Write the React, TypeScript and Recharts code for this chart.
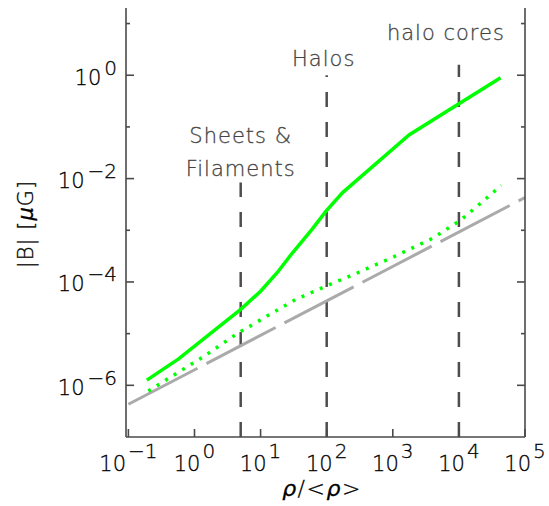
import React from "react";
import {
  LineChart,
  Line,
  XAxis,
  YAxis,
  ReferenceLine,
} from "recharts";

// green solid curve
const RHO_SOLID = [0.19, 0.575, 5.0, 10, 17.8, 30.2, 60.3, 97.7, 174, 1780, 42700];
const B_SOLID = [1.26e-6, 3.24e-6, 2.95e-5, 6.6e-5, 1.51e-4, 3.63e-4, 1.05e-3, 2.34e-3, 5.37e-3, 7.08e-2, 0.89];

// green dotted curve
const RHO_DOTTED = [0.2, 1.35, 4.68, 33.9, 97.7, 263, 1047, 4074, 10700, 25100, 43650];
const B_DOTTED = [7.76e-7, 3.55e-6, 1.05e-5, 4.57e-5, 8.32e-5, 1.41e-4, 3.09e-4, 7.08e-4, 1.58e-3, 3.98e-3, 7.41e-3];

// grey long-dashed reference (B ~ rho^(2/3))
const RHO_GREY = [0.1, 1e5];
const B_GREY = [4.3e-7, 4.3e-3];

const X_TICKS = [0.1, 1, 10, 100, 1000, 1e4, 1e5];
const Y_TICKS = [1e-6, 1e-5, 1e-4, 1e-3, 1e-2, 1e-1, 1, 10];
const X_DOMAIN = [0.092, 1e5];
const Y_DOMAIN = [1e-7, 20];

// density regimes: x position, top of the marker line, label lines
const REGIMES = [
  { rho: 5, top: 8.4e-3, lines: ["Sheets &", "Filaments"], dx: 0, dy: -7 },
  { rho: 100, top: 1.0, lines: ["Halos"], dx: -3, dy: -9 },
  { rho: 1e4, top: 1.6, lines: ["halo cores"], dx: -13, dy: -25 },
];

const FONT = "'DejaVu Sans ExtraLight', 'DejaVu Sans', sans-serif";
const AXIS = "#4a4a4a";

const toRows = (xs: number[], ys: number[]) => xs.map((rho, i) => ({ rho, b: ys[i] }));

const exponent = (v: number) => {
  const e = Math.round(Math.log10(v));
  return e < 0 ? "\u2212" + Math.abs(e) : String(e);
};

const BottomTick = (props: any) => {
  const { x, y, payload } = props;
  return (
    <g>
      <line x1={x} x2={x} y1={y} y2={y - 8} stroke={AXIS} strokeWidth={1.6} />
      <text x={x} y={y + 33.5} textAnchor="middle" fontFamily={FONT} fontWeight={200} fontSize={21} fill="#000" stroke="#000" strokeWidth={0.3}>
        10
        <tspan dx={2} dy={-12.5} fontSize={20}>
          {exponent(payload.value)}
        </tspan>
      </text>
    </g>
  );
};

const TopTick = (props: any) => {
  const { x, y } = props;
  return <line x1={x} x2={x} y1={y} y2={y + 8} stroke={AXIS} strokeWidth={1.6} />;
};

const isMajor = (v: number) => Math.round(Math.log10(v)) % 2 === 0;

const LeftTick = (props: any) => {
  const { x, y, payload } = props;
  const major = isMajor(payload.value);
  return (
    <g>
      <line x1={x} x2={x + (major ? 8 : 4)} y1={y} y2={y} stroke={AXIS} strokeWidth={1.6} />
      {major && (
        <text x={x - 9} y={y + 9.5} textAnchor="end" fontFamily={FONT} fontWeight={200} fontSize={21} fill="#000" stroke="#000" strokeWidth={0.3}>
          10
          <tspan dx={3} dy={-10} fontSize={20}>
            {exponent(payload.value)}
          </tspan>
        </text>
      )}
    </g>
  );
};

const RightTick = (props: any) => {
  const { x, y, payload } = props;
  const major = isMajor(payload.value);
  return <line x1={x} x2={x - (major ? 8 : 4)} y1={y} y2={y} stroke={AXIS} strokeWidth={1.6} />;
};

const regimeLabel = (lines: string[], dx: number, dy: number) => (props: any) => {
  const vb = props.viewBox;
  const cx = vb.x + dx;
  const base = vb.y + dy;
  return (
    <text textAnchor="middle" fontFamily={FONT} fontWeight={200} fontSize={21} letterSpacing={1} fill="#444" stroke="#444" strokeWidth={0.3}>
      {lines.map((t, i) => (
        <tspan key={t} x={cx} y={base - (lines.length - 1 - i) * 32.5}>
          {t}
        </tspan>
      ))}
    </text>
  );
};

export default function App() {
  return (
    <div style={{ position: "absolute", left: 0, top: 0, background: "#fff" }}>
      <LineChart width={549} height={506} margin={{ top: 8, right: 0, bottom: 0, left: 0 }}>
        <XAxis
          dataKey="rho"
          type="number"
          scale="log"
          domain={X_DOMAIN}
          allowDataOverflow
          ticks={X_TICKS}
          interval={0}
          height={69}
          tickSize={0}
          tickMargin={0}
          tickLine={false}
          tick={<BottomTick />}
          axisLine={{ stroke: AXIS, strokeWidth: 1.6 }}
        />
        <XAxis
          xAxisId="top"
          orientation="top"
          dataKey="rho"
          type="number"
          scale="log"
          domain={X_DOMAIN}
          allowDataOverflow
          ticks={X_TICKS}
          interval={0}
          height={0}
          tickSize={0}
          tickMargin={0}
          tickLine={false}
          tick={<TopTick />}
          axisLine={{ stroke: AXIS, strokeWidth: 1.6 }}
        />
        <YAxis
          type="number"
          scale="log"
          domain={Y_DOMAIN}
          allowDataOverflow
          ticks={Y_TICKS}
          interval={0}
          width={126}
          tickSize={0}
          tickMargin={0}
          tickLine={false}
          tick={<LeftTick />}
          axisLine={{ stroke: AXIS, strokeWidth: 1.6 }}
        />
        <YAxis
          yAxisId="right"
          orientation="right"
          type="number"
          scale="log"
          domain={Y_DOMAIN}
          allowDataOverflow
          ticks={Y_TICKS}
          interval={0}
          width={24}
          tickSize={0}
          tickMargin={0}
          tickLine={false}
          tick={<RightTick />}
          axisLine={{ stroke: AXIS, strokeWidth: 1.6 }}
        />

        {REGIMES.map((r) => (
          <ReferenceLine
            key={r.rho}
            segment={[
              { x: r.rho, y: Y_DOMAIN[0] },
              { x: r.rho, y: r.top },
            ]}
            stroke="#4d4d4d"
            strokeWidth={2.5}
            strokeDasharray="15 15"
            label={regimeLabel(r.lines, r.dx, r.dy)}
          />
        ))}

        <Line
          data={toRows(RHO_GREY, B_GREY)}
          dataKey="b"
          type="linear"
          stroke="#aaaaaa"
          strokeWidth={3}
          strokeDasharray="78 10"
          dot={false}
          activeDot={false}
          isAnimationActive={false}
        />
        <Line
          data={toRows(RHO_DOTTED, B_DOTTED)}
          dataKey="b"
          type="linear"
          stroke="#00ff00"
          strokeWidth={3.5}
          strokeDasharray="3 7"
          dot={false}
          activeDot={false}
          isAnimationActive={false}
        />
        <Line
          data={toRows(RHO_SOLID, B_SOLID)}
          dataKey="b"
          type="linear"
          stroke="#00ff00"
          strokeWidth={3.5}
          dot={false}
          activeDot={false}
          isAnimationActive={false}
        />

        <text
          x={322}
          y={496}
          textAnchor="middle"
          fontFamily={FONT}
          fontWeight={200}
          fontSize={22}
          letterSpacing={1.5}
          fill="#000"
          stroke="#000"
          strokeWidth={0.3}
        >
          <tspan fontStyle="italic">ρ</tspan>/&lt;<tspan fontStyle="italic">ρ</tspan>&gt;
        </text>
        <text
          transform="translate(33 224) rotate(-90)"
          textAnchor="middle"
          fontFamily={FONT}
          fontWeight={200}
          fontSize={21}
          letterSpacing={1}
          fill="#000"
          stroke="#000"
          strokeWidth={0.3}
        >
          |B| [<tspan fontStyle="italic">μ</tspan>G]
        </text>
      </LineChart>
    </div>
  );
}
